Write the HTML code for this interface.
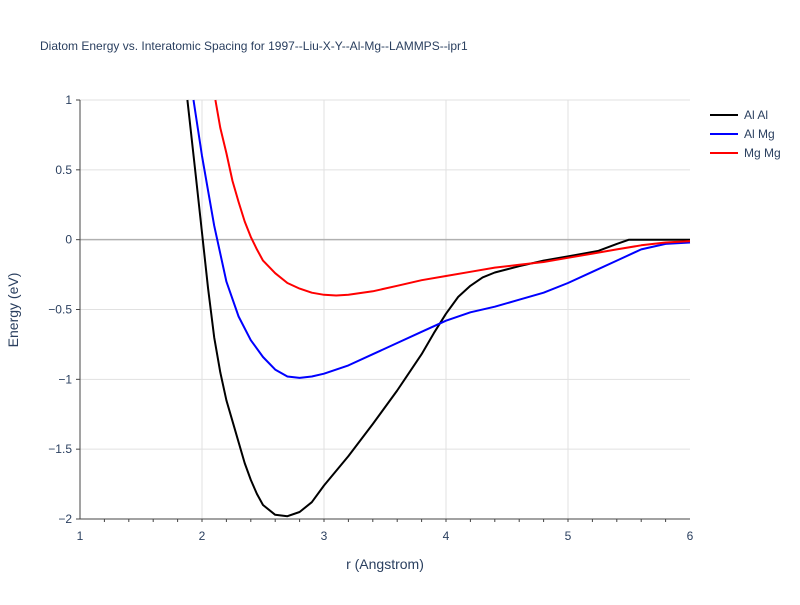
<!DOCTYPE html>
<html><head><meta charset="utf-8"><style>
body{margin:0;background:#fff;font-family:"Liberation Sans",sans-serif;}
</style></head><body>
<svg id="chart" width="800" height="600" xmlns="http://www.w3.org/2000/svg" font-family="Liberation Sans, sans-serif">
<rect width="800" height="600" fill="#fff"/>
<text x="40" y="50" font-size="12" fill="#2a3f5f">Diatom Energy vs. Interatomic Spacing for 1997--Liu-X-Y--Al-Mg--LAMMPS--ipr1</text>
<g id="grid"></g><g id="axes"></g><g id="series"></g><g id="legend"></g>
<text x="385" y="569" font-size="14" fill="#2a3f5f" text-anchor="middle">r (Angstrom)</text>
<text transform="translate(18,310) rotate(-90)" font-size="14" fill="#2a3f5f" text-anchor="middle">Energy (eV)</text>
</svg>
<script>
const xTicks=[1,2,3,4,5,6];
const yTicks=[1,0.5,0,-0.5,-1,-1.5,-2];
const yTickLabels=["1","0.5","0","−0.5","−1","−1.5","−2"];
const seriesNames=["Al Al","Al Mg","Mg Mg"];
const seriesColors=["#000000","#0000ff","#ff0000"];
const alalR=[1.88,1.95,2.0,2.05,2.1,2.15,2.2,2.25,2.3,2.35,2.4,2.45,2.5,2.6,2.7,2.8,2.9,3.0,3.2,3.4,3.6,3.8,3.9,4.0,4.1,4.2,4.3,4.4,4.6,4.8,5.0,5.25,5.4,5.5,6.0];
const alalE=[1.0,0.45,0.05,-0.35,-0.7,-0.95,-1.15,-1.3,-1.45,-1.6,-1.72,-1.82,-1.9,-1.97,-1.98,-1.95,-1.88,-1.76,-1.55,-1.32,-1.08,-0.82,-0.67,-0.53,-0.41,-0.33,-0.27,-0.235,-0.19,-0.15,-0.12,-0.08,-0.03,0,0];
const almgR=[1.93,2.0,2.1,2.2,2.3,2.4,2.5,2.6,2.7,2.8,2.9,3.0,3.2,3.4,3.6,3.8,4.0,4.2,4.4,4.6,4.8,5.0,5.2,5.4,5.6,5.8,6.0];
const almgE=[1.0,0.6,0.1,-0.3,-0.55,-0.72,-0.84,-0.93,-0.98,-0.99,-0.98,-0.96,-0.9,-0.82,-0.74,-0.66,-0.58,-0.52,-0.48,-0.43,-0.38,-0.31,-0.23,-0.15,-0.07,-0.03,-0.02];
const mgmgR=[2.11,2.15,2.2,2.25,2.3,2.35,2.4,2.45,2.5,2.6,2.7,2.8,2.9,3.0,3.1,3.2,3.4,3.6,3.8,4.0,4.2,4.4,4.6,4.8,5.0,5.2,5.4,5.6,5.8,6.0];
const mgmgE=[1.0,0.8,0.62,0.42,0.27,0.13,0.02,-0.07,-0.15,-0.24,-0.31,-0.35,-0.38,-0.395,-0.4,-0.395,-0.37,-0.33,-0.29,-0.26,-0.23,-0.2,-0.18,-0.16,-0.13,-0.1,-0.07,-0.04,-0.02,-0.01];
const X0=80,X1=690,Y0=100,Y1=519;
const sx=r=>X0+(r-1)/(6-1)*(X1-X0);
const sy=e=>Y0+(1-e)/(1-(-2))*(Y1-Y0);
const NS="http://www.w3.org/2000/svg";
function mk(tag,parent,attrs){const el=document.createElementNS(NS,tag);for(const k in attrs)el.setAttribute(k,attrs[k]);document.getElementById(parent).appendChild(el);return el;}
xTicks.forEach(t=>{
  if(t>1&&t<6){const g=mk('line','grid',{x1:sx(t),x2:sx(t),y1:Y0,y2:Y1,stroke:'#e1e1e1'});
  
  }
  const l=mk('text','axes',{x:sx(t),y:540,'font-size':12,fill:'#2a3f5f','text-anchor':'middle'});l.textContent=t;
  
  
});
for(let t=1.2;t<6;t+=0.2){const m=mk('line','axes',{x1:sx(t),x2:sx(t),y1:Y1,y2:Y1+3,stroke:'#444'});
  
  }
yTicks.forEach((t,i)=>{
  const g=mk('line','grid',{x1:X0,x2:X1,y1:sy(t),y2:sy(t),stroke:t===0?'#b0b0b0':'#e1e1e1','stroke-width':t===0?1.5:1});
  
  
  const l=mk('text','axes',{x:72,y:sy(t)+4,'font-size':12,fill:'#2a3f5f','text-anchor':'end'});l.textContent=yTickLabels[i];
  
  
  const tk=mk('line','axes',{x1:X0-4,x2:X0,y1:sy(t),y2:sy(t),stroke:'#444'});
  
  
});
const ax=mk('line','axes',{x1:X0,x2:X0,y1:Y0,y2:Y1,stroke:'#444'});


const bx=mk('line','axes',{x1:X0,x2:X1,y1:Y1,y2:Y1,stroke:'#444'});


const data=[[alalR,alalE],[almgR,almgE],[mgmgR,mgmgE]];
const slugs=['al-al','al-mg','mg-mg'];
data.forEach((d,i)=>{
  const pts=d[0].map((r,j)=>sx(r).toFixed(1)+','+sy(d[1][j]).toFixed(1)).join(' ');
  const p=mk('polyline','series',{points:pts,fill:'none',stroke:seriesColors[i],'stroke-width':2,'stroke-linejoin':'round'});
  
  
  const ly=115+i*19;
  const ll=mk('line','legend',{x1:710,x2:738,y1:ly,y2:ly,stroke:seriesColors[i],'stroke-width':2});
  
  
  const lt=mk('text','legend',{x:744,y:ly+4,'font-size':12,fill:'#2a3f5f'});lt.textContent=seriesNames[i];
  
  
});
</script>
</body></html>
